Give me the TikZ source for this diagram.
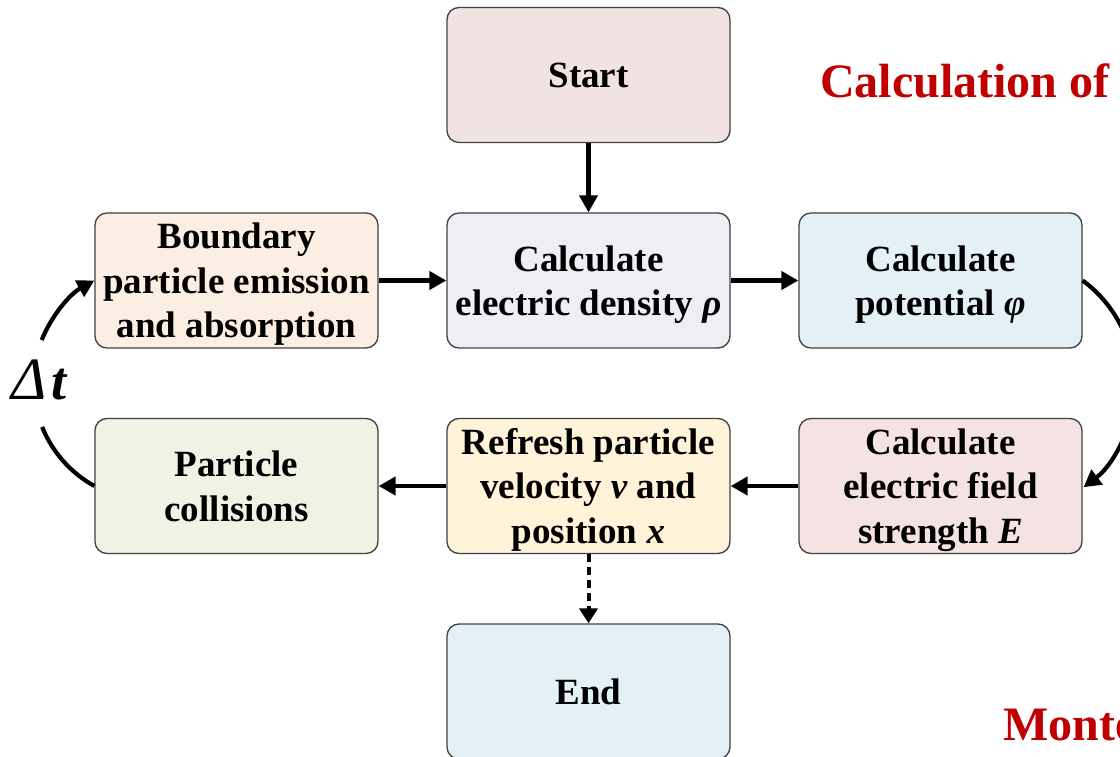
\documentclass[tikz,border=0pt]{standalone}
\usepackage{fontspec}
\setmainfont{Liberation Serif}
\usetikzlibrary{arrows.meta}
\definecolor{startc}{HTML}{F2E3E3}
\definecolor{bndc}{HTML}{FBEFE3}
\definecolor{densc}{HTML}{EFEEF4}
\definecolor{potc}{HTML}{E3F0F5}
\definecolor{collc}{HTML}{EEF3E4}
\definecolor{refc}{HTML}{FFF3D9}
\definecolor{Ec}{HTML}{F5E3E3}
\definecolor{endc}{HTML}{E3F0F5}
\definecolor{bordc}{HTML}{404040}
\definecolor{titlec}{HTML}{C00000}
\newcommand{\mystrut}{\rule{0pt}{36pt}}
\newcommand{\mydstrut}{\rule[-10pt]{0pt}{10pt}}
\begin{document}
\begin{tikzpicture}[x=1pt,y=1pt,
  box/.style={draw=bordc, line width=1.3pt, rounded corners=12pt,
    minimum width=283pt, minimum height=135pt, inner sep=0pt, align=center,
    font=\fontsize{37}{44.5}\selectfont\bfseries},
  conn/.style={line width=4.2pt, -{Triangle[length=17pt,width=18pt]}},
  rconn/.style={line width=4.2pt, {Triangle[length=17pt,width=18pt]}-},
  plain/.style={line width=4.2pt},
  dconn/.style={line width=4pt, dash pattern=on 8pt off 5pt, -{Triangle[length=15pt,width=18pt]}},
  title/.style={text=titlec, font=\fontsize{48}{56}\selectfont\bfseries, inner sep=0pt}
]
\useasboundingbox (0,0) rectangle (1120,756);
\clip (0,0) rectangle (1120,756);

\node[box, fill=startc] (start) at (588.5,681) {Start};
\node[box, fill=bndc] (bnd) at (236.5,475.5) {\mystrut Boundary\\particle emission\\and absorption\mydstrut};
\node[box, fill=densc] (dens) at (588.5,475.5) {\mystrut Calculate\\electric density \textit{ρ}\mydstrut};
\node[box, fill=potc] (pot) at (940.5,475.5) {\mystrut Calculate\\potential \textit{φ}\mydstrut};
\node[box, fill=collc] (coll) at (236.5,270) {\mystrut Particle\\collisions\mydstrut};
\node[box, fill=refc] (ref) at (588.5,270) {\mystrut Refresh particle\\velocity \textit{v} and\\position \textit{x}\mydstrut};
\node[box, fill=Ec] (efield) at (940.5,270) {\mystrut Calculate\\electric field\\strength \textit{E}\mydstrut};
\node[box, fill=endc] (end) at (588.5,64.5) {End};

\draw[conn] (start) -- (dens);
\draw[conn] (bnd) -- (dens);
\draw[conn] (dens) -- (pot);
\draw[conn] (efield) -- (ref);
\draw[conn] (ref) -- (coll);
\draw[dconn] (ref) -- (end);

\draw[conn] (pot.east) arc[start angle=53.5, end angle=-53, radius=129];
\draw[rconn] (bnd.west) arc[start angle=119, end angle=158, radius=119];
\draw[plain] (coll.west) arc[start angle=241, end angle=202, radius=118];

\node[anchor=base west, inner sep=0pt] (dt) at (11,356)
  {\fontsize{60}{66}\selectfont\itshape Δ\kern5pt\fontsize{54}{60}\selectfont\bfseries t};

\node[title, anchor=base west] (t1) at (820,658) {Calculation of e};
\node[title, anchor=base west] (t2) at (1003,16) {Monte};
\end{tikzpicture}
\end{document}
